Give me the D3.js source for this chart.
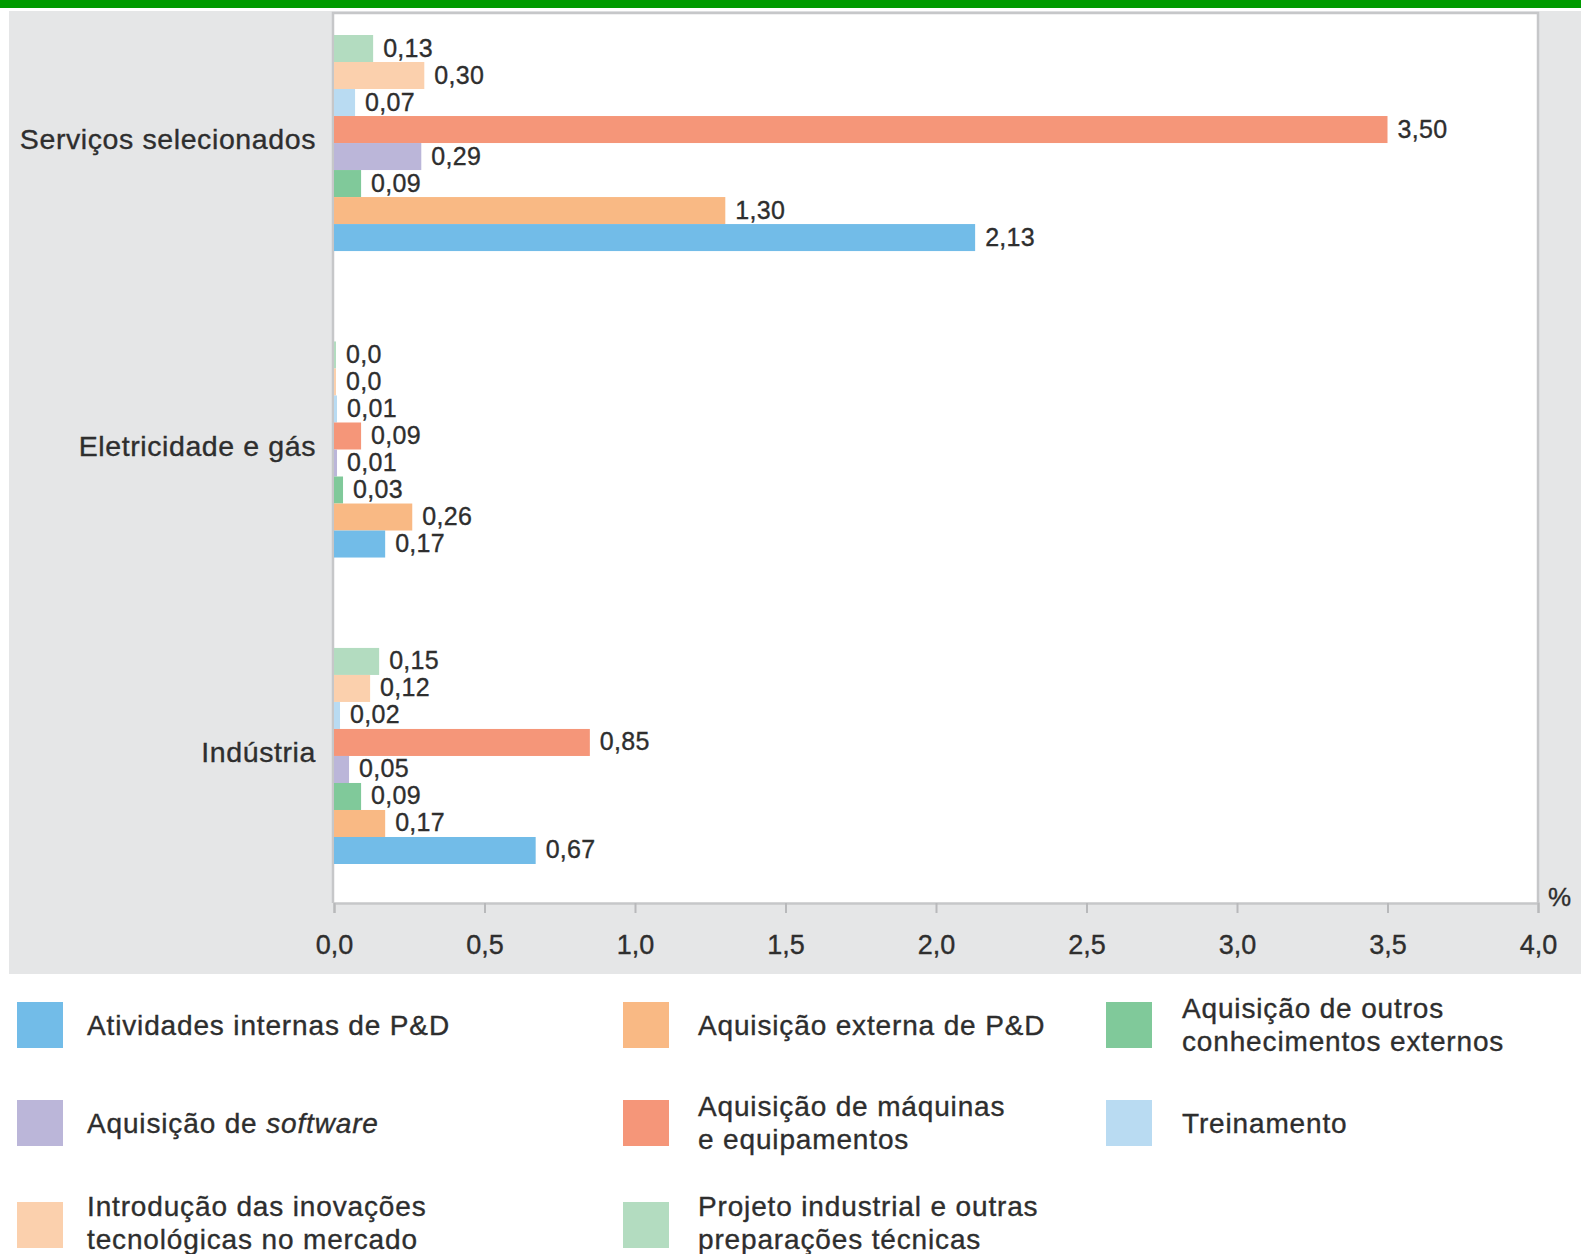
<!DOCTYPE html>
<html><head><meta charset="utf-8">
<script src="https://cdn.jsdelivr.net/npm/d3@7"></script>
<style>
html,body{margin:0;padding:0;background:#fff;}
svg{display:block;font-family:"Liberation Sans",Arial,sans-serif;}
text{stroke:#2e2e2e;stroke-width:0.35px;}
</style></head>
<body>
<svg id="chart" width="1581" height="1254"></svg>
<script>
// ---- data ----
const categories = ["Serviços selecionados", "Eletricidade e gás", "Indústria"];
// series in drawing order within each group (top to bottom)
const seriesNames = [
  "Projeto industrial e outras preparações técnicas",
  "Introdução das inovações tecnológicas no mercado",
  "Treinamento",
  "Aquisição de máquinas e equipamentos",
  "Aquisição de software",
  "Aquisição de outros conhecimentos externos",
  "Aquisição externa de P&D",
  "Atividades internas de P&D"
];
const seriesColors = ["#b3dcc0", "#fbd0ad", "#b9dbf2", "#f59679", "#bbb6d9", "#80c99a", "#f9b984", "#72bce8"];
const valuesServicos     = [0.13, 0.30, 0.07, 3.50, 0.29, 0.09, 1.30, 2.13];
const valuesEletricidade = [0.00, 0.00, 0.01, 0.09, 0.01, 0.03, 0.26, 0.17];
const valuesIndustria    = [0.15, 0.12, 0.02, 0.85, 0.05, 0.09, 0.17, 0.67];
const xTicks = [0, 0.5, 1.0, 1.5, 2.0, 2.5, 3.0, 3.5, 4.0];
// legend layout: [series index, column, row, lines]
const legendItems = [
  [7, 0, 0, ["Atividades internas de P&D"]],
  [4, 0, 1, null],
  [1, 0, 2, ["Introdução das inovações", "tecnológicas no mercado"]],
  [6, 1, 0, ["Aquisição externa de P&D"]],
  [3, 1, 1, ["Aquisição de máquinas", "e equipamentos"]],
  [0, 1, 2, ["Projeto industrial e outras", "preparações técnicas"]],
  [5, 2, 0, ["Aquisição de outros", "conhecimentos externos"]],
  [2, 2, 1, ["Treinamento"]]
];
const groupValues = [valuesServicos, valuesEletricidade, valuesIndustria];

// ---- drawing ----
const svg = d3.select("#chart");
const textColor = "#2e2e2e";

svg.append("rect").attr("x", 0).attr("y", 0).attr("width", 1581).attr("height", 8).attr("fill", "#009a00");
svg.append("rect").attr("x", 9).attr("y", 11).attr("width", 1572).attr("height", 963).attr("fill", "#e5e6e7");

const plotL = 333, plotR = 1538, plotT = 13, plotB = 903;
svg.append("rect").attr("x", plotL).attr("y", plotT).attr("width", plotR - plotL).attr("height", plotB - plotT)
  .attr("fill", "#fff");
svg.append("path").attr("d", `M${plotL},${plotB}V${plotT}H${plotR}V${plotB}`)
  .attr("fill", "none").attr("stroke", "#c6c7c9").attr("stroke-width", 2.5);

const x = d3.scaleLinear().domain([0, 4]).range([plotL + 1, plotR]);
const y = d3.scaleBand().domain(categories).range([35, 864]).paddingInner(0.295).paddingOuter(0);
const yInner = d3.scaleBand().domain(seriesNames).range([0, y.bandwidth()]).padding(0);

const fmt = v => v === 0 ? "0,0" : d3.format(".2f")(v).replace(".", ",");

categories.forEach((cat, gi) => {
  const g = svg.append("g").attr("transform", `translate(0,${y(cat)})`);
  const rows = seriesNames.map((s, i) => ({s, v: groupValues[gi][i], c: seriesColors[i]}));
  g.selectAll("rect").data(rows).join("rect")
    .attr("x", x(0))
    .attr("y", d => yInner(d.s))
    .attr("width", d => Math.max(x(d.v) - x(0), 2))
    .attr("height", yInner.bandwidth())
    .attr("fill", d => d.c);
  g.selectAll("text").data(rows).join("text")
    .attr("x", d => x(0) + Math.max(x(d.v) - x(0), 2) + 10)
    .attr("y", d => yInner(d.s) + yInner.bandwidth() / 2 + 8)
    .attr("font-size", 25)
    .attr("letter-spacing", 0.3)
    .attr("fill", textColor)
    .text(d => fmt(d.v));
  svg.append("text")
    .attr("x", 316).attr("y", y(cat) + y.bandwidth() / 2 + 6)
    .attr("text-anchor", "end").attr("font-size", 28.5).attr("letter-spacing", 0.6).attr("fill", textColor)
    .text(cat);
});

// x axis
const axis = svg.append("g").attr("transform", `translate(0,${plotB})`)
  .call(d3.axisBottom(x).tickValues(xTicks).tickSize(10).tickPadding(22)
    .tickFormat(d => d3.format(".1f")(d).replace(".", ",")));
axis.select(".domain").attr("stroke", "#c6c7c9").attr("stroke-width", 2.5);
axis.selectAll(".tick line").attr("stroke", "#b8b9bb").attr("stroke-width", 2);
axis.selectAll(".tick text").attr("font-size", 27).attr("fill", textColor)
  .attr("font-family", "Liberation Sans, Arial, sans-serif");
svg.append("text").attr("x", 1548).attr("y", 906).attr("font-size", 26).attr("fill", textColor).text("%");

// legend
const colX = [17, 623, 1106];
const colTextX = [87, 698, 1182];
const rowY = [1025, 1123, 1225];
const rowTextShift = [0, 0, -2];
legendItems.forEach(([si, col, row, lines]) => {
  const cx = colX[col], cy = rowY[row], tx = colTextX[col], ty = cy + rowTextShift[row];
  svg.append("rect").attr("x", cx).attr("y", cy - 23).attr("width", 46).attr("height", 46)
    .attr("fill", seriesColors[si]);
  const t = svg.append("text").attr("font-size", 28).attr("letter-spacing", 0.85).attr("fill", textColor);
  if (lines === null) {
    t.attr("x", tx).attr("y", ty + 10);
    t.append("tspan").text("Aquisição de ");
    t.append("tspan").attr("font-style", "italic").text("software");
  } else if (lines.length === 1) {
    t.attr("x", tx).attr("y", ty + 10).text(lines[0]);
  } else {
    lines.forEach((ln, k) => {
      t.append("tspan").attr("x", tx).attr("y", ty - 7 + k * 33).text(ln);
    });
  }
});
</script>
</body></html>
